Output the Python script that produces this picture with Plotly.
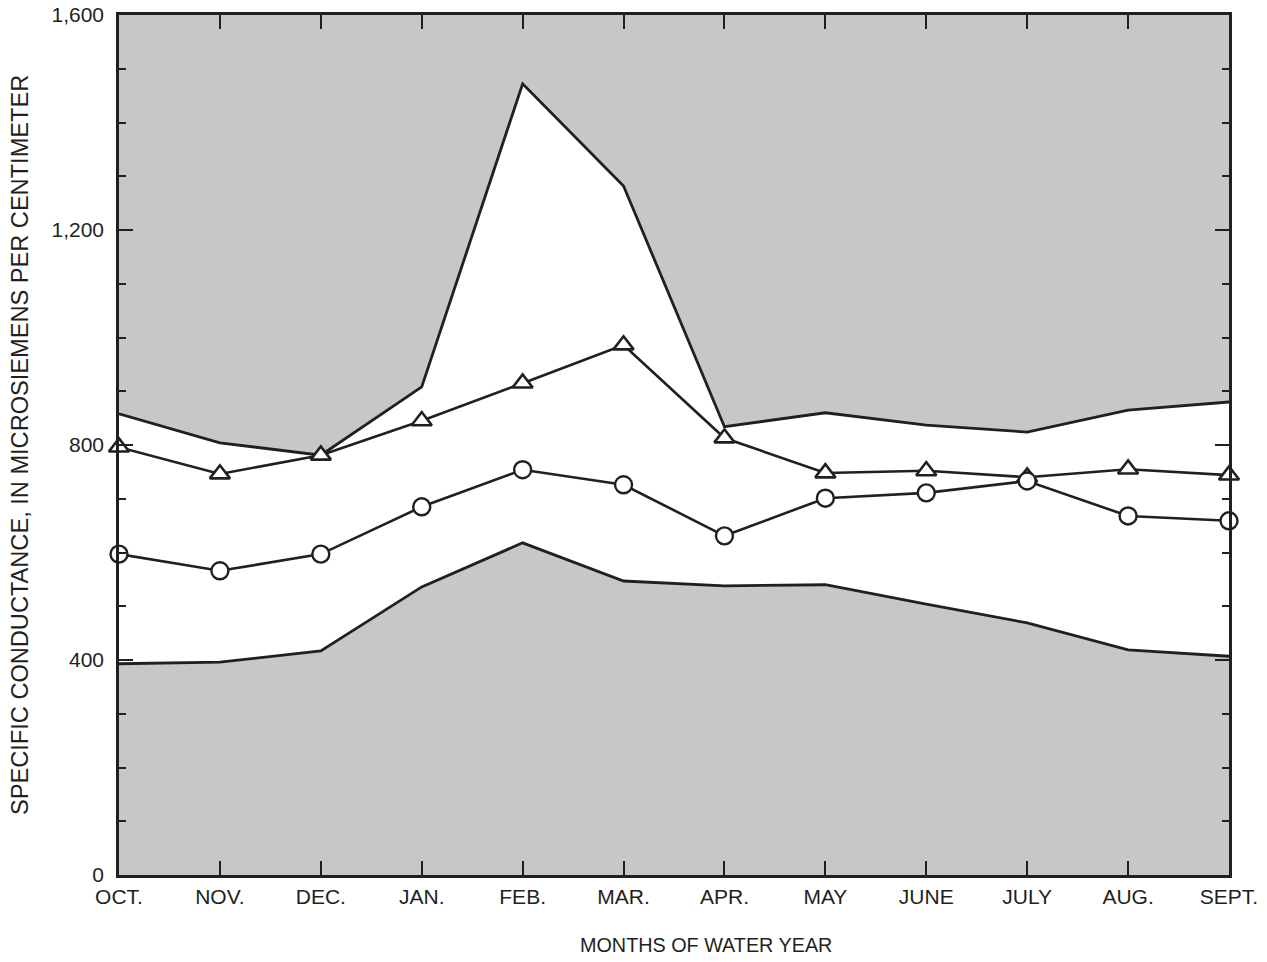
import plotly.graph_objects as go

months = ["OCT.", "NOV.", "DEC.", "JAN.", "FEB.", "MAR.", "APR.", "MAY", "JUNE", "JULY", "AUG.", "SEPT."]
max_vals = [858, 804, 781, 908, 1472, 1282, 834, 860, 837, 824, 865, 880]
tri_vals = [796, 746, 781, 845, 915, 986, 813, 748, 752, 740, 755, 744]
circ_vals = [597, 566, 597, 685, 754, 726, 631, 701, 711, 733, 668, 659]
min_vals = [393, 396, 417, 536, 618, 547, 538, 540, 504, 469, 419, 407]

x = list(range(len(months)))
GRAY = "#c6c7c9"
LINE = "#231f20"

fig = go.Figure()
fig.add_trace(go.Scatter(x=x, y=min_vals, mode="lines", line=dict(color=LINE, width=2.8), showlegend=False))
fig.add_trace(go.Scatter(x=x, y=max_vals, mode="lines", line=dict(color=LINE, width=2.8),
                         fill="tonexty", fillcolor="white", showlegend=False))
fig.add_trace(go.Scatter(x=x, y=tri_vals, mode="lines+markers", line=dict(color=LINE, width=2.6),
                         marker=dict(symbol="triangle-up", size=17.5, color="white", line=dict(width=2.6, color=LINE)),
                         showlegend=False, cliponaxis=False))
fig.add_trace(go.Scatter(x=x, y=circ_vals, mode="lines+markers", line=dict(color=LINE, width=2.6),
                         marker=dict(symbol="circle", size=17, color="white", line=dict(width=2.4, color=LINE)),
                         showlegend=False, cliponaxis=False))

FAM = "Liberation Sans, Arial, sans-serif"
tickfont = dict(family=FAM, size=21, color=LINE)
fig.update_layout(
    width=1267, height=962,
    margin=dict(l=119, r=38, t=15, b=87),
    paper_bgcolor="white", plot_bgcolor=GRAY,
    font=dict(family=FAM, size=20, color=LINE),
    xaxis=dict(range=[0, 11], tickvals=x, ticktext=months, ticks="inside", ticklen=14, tickwidth=1.5,
               tickcolor=LINE, showline=True, linecolor=LINE, linewidth=2.5, mirror="ticks",
               showgrid=False, zeroline=False, tickfont=tickfont, ticklabelstandoff=1, automargin=False),
    yaxis=dict(range=[0, 1600], tickvals=[0, 400, 800, 1200, 1600], tickformat=",", ticks="inside",
               ticklen=14, tickwidth=1.5, tickcolor=LINE, showline=True, linecolor=LINE, linewidth=2.5,
               mirror="ticks", showgrid=False, zeroline=False, tickfont=tickfont, ticklabelstandoff=8,
               automargin=False,
               minor=dict(dtick=100, ticks="inside", ticklen=7, tickwidth=1.5, tickcolor=LINE, showgrid=False)),
    annotations=[
        dict(text="MONTHS OF WATER YEAR", xref="paper", yref="paper", x=0.5288, y=-0.0814,
             xanchor="center", yanchor="middle", showarrow=False,
             font=dict(family=FAM, size=19.8, color=LINE)),
        dict(text="SPECIFIC CONDUCTANCE, IN MICROSIEMENS PER CENTIMETER", xref="paper", yref="paper",
             x=-0.0892, y=0.5, xanchor="center", yanchor="middle", textangle=-90, showarrow=False,
             font=dict(family=FAM, size=23.6, color=LINE)),
    ],
)
fig.write_html("out.html")
